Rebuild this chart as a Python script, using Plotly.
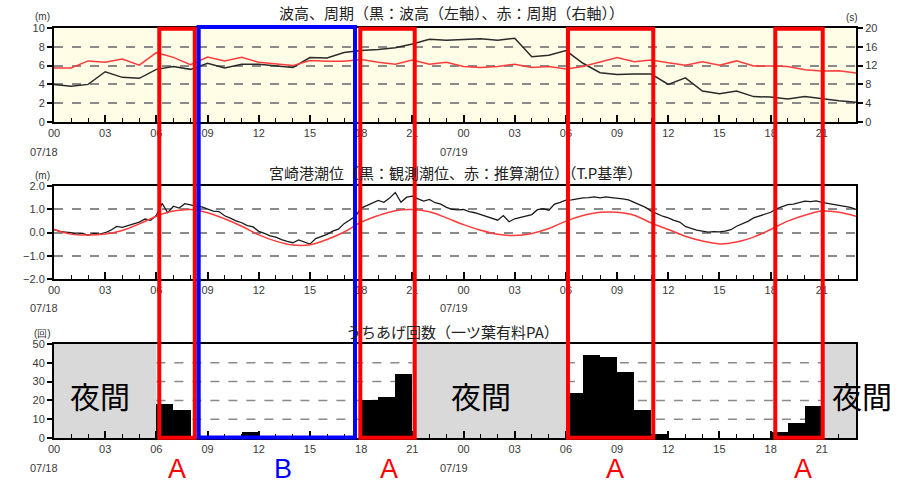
import plotly.graph_objects as go

# ---------------- data ----------------
hours = list(range(48))  # 07/18 00:00 .. 07/19 23:00

wave_height = [4.0, 3.8, 4.0, 5.35, 4.75, 4.65, 5.6, 5.9, 5.6, 6.25, 5.75, 6.15,
               6.15, 6.0, 5.8, 6.85, 6.8, 7.4, 7.6, 7.7, 7.9, 8.3, 8.8, 8.7,
               8.8, 8.85, 8.7, 8.9, 6.95, 7.1, 7.6, 6.25, 5.25, 5.05, 5.1, 5.1,
               4.0, 4.7, 3.3, 3.0, 3.3, 2.7, 2.65, 2.45, 2.7, 2.45, 2.25, 2.1]

wave_period = [11.5, 11.5, 13.0, 12.7, 13.4, 12.1, 14.75, 13.75, 12.2, 13.8, 13.0, 13.75,
               12.7, 12.3, 12.0, 13.1, 12.9, 12.9, 13.3, 12.7, 12.3, 13.2, 12.3, 12.7,
               11.8, 11.6, 11.8, 12.3, 11.6, 11.8, 11.3, 11.8, 12.8, 13.7, 12.8, 13.2,
               12.6, 12.1, 12.8, 12.1, 13.0, 11.9, 11.9, 11.8, 11.1, 10.85, 10.9, 10.4]

tide_predicted = [0.13, -0.07, -0.11, -0.06, 0.09, 0.37, 0.70, 0.92, 0.99, 0.85, 0.59, 0.27,
                  -0.10, -0.37, -0.54, -0.53, -0.30, 0.02, 0.44, 0.73, 0.94, 0.99, 0.89, 0.63,
                  0.34, 0.10, -0.08, -0.13, -0.04, 0.17, 0.49, 0.73, 0.87, 0.87, 0.74, 0.41,
                  0.13, -0.16, -0.37, -0.49, -0.41, -0.20, 0.13, 0.49, 0.74, 0.92, 0.87, 0.70]

# observed tide, every 20 minutes
tide_observed = [
    0.13, 0.05, 0.02,  -0.01, -0.08, -0.03,  -0.12, -0.04, -0.07,  -0.01, 0.10, 0.26,
    0.22, 0.30, 0.40,  0.45, 0.58, 0.52,  0.74, 1.25, 0.85,  1.13, 1.05, 1.24,
    1.19, 1.12, 1.10,  1.02, 0.92, 0.90,  0.72, 0.62, 0.50,  0.42, 0.30, 0.24,
    0.05, -0.04, -0.14,  -0.20, -0.31, -0.38,  -0.44, -0.32, -0.42,  -0.50, -0.26, -0.18,
    -0.08, 0.06, 0.14,  0.38, 0.55, 0.70,  1.05, 1.16, 1.25,  1.38, 1.30, 1.48,
    1.72, 1.30, 1.52,  1.56, 1.45, 1.35,  1.42, 1.28, 1.22,  1.08, 1.00, 0.97,
    0.99, 0.90, 0.85,  0.77, 0.68, 0.60,  0.53, 0.73, 0.46,  0.59, 0.64, 0.72,
    0.77, 0.98, 1.02,  0.96, 1.22, 1.30,  1.39, 1.40, 1.46,  1.49, 1.50, 1.53,
    1.49, 1.53, 1.50,  1.49, 1.45, 1.40,  1.30, 1.18, 1.08,  0.92, 0.80, 0.70,
    0.63, 0.52, 0.45,  0.26, 0.18, 0.10,  0.06, 0.02, 0.04,  0.03, 0.06, 0.12,
    0.27, 0.38, 0.48,  0.63, 0.72, 0.80,  0.87, 1.02, 1.12,  1.20, 1.22, 1.28,
    1.35, 1.33, 1.36,  1.30, 1.25, 1.20,  1.16, 1.12, 1.08,  0.99]
tide_obs_hours = [i / 3 for i in range(len(tide_observed))]

# wave overtopping counts per hour (None = night / no data)
count_hours = list(range(47))
overtop_counts = [None]*6 + [18, 15, 0, 0, 0, 3, 0, 0, 0, 0, 0, 0, 20, 22, 34] + [None]*9 + \
                 [24, 44, 43, 35, 15, 2, 0, 0, 0, 0, 0, 0, 3, 8, 17] + [None]*2

night_spans = [(0, 6), (21, 30), (45, 47)]
day_spans = [(6, 21), (30, 45)]
count_grid = [10, 20, 30, 40]
tick_hours = list(range(0, 46, 3))
tick_labels = ["%02d" % (h % 24) for h in tick_hours]
date_labels = [(0, "07/18"), (24, "07/19")]

box_A = [(6.17, 8.25), (17.95, 21.14), (30.12, 35.12), (42.27, 45.05)]
box_B = [(8.48, 17.64)]
label_A_hours = [7.2, 19.65, 32.85, 43.9]
label_B_hours = [13.4]

# ---------------- layout helpers ----------------
W, H = 914, 485
L, T = 54, 28
R = W - 856
B = H - 438
PW, PH = W - L - R, H - T - B
XMAX = 47


def py(p):  # pixel y -> paper y
    return (H - B - p) / PH


def pxx(p):  # pixel x -> paper x
    return (p - L) / PW


def hx(h):  # hour -> paper x
    return h / XMAX

TICKFONT = dict(family="Liberation Sans, Arial", size=11, color="#3a3a3a")

fig = go.Figure()
fig.add_trace(go.Scatter(x=hours, y=wave_height, mode="lines", xaxis="x", yaxis="y",
                         line=dict(color="#2a2a2a", width=1.5), showlegend=False))
fig.add_trace(go.Scatter(x=hours, y=wave_period, mode="lines", xaxis="x", yaxis="y2",
                         line=dict(color="#ff3b3b", width=1.5), showlegend=False))
fig.add_trace(go.Scatter(x=tide_obs_hours, y=tide_observed, mode="lines", xaxis="x2", yaxis="y3",
                         line=dict(color="#1a1a1a", width=1.3), showlegend=False))
fig.add_trace(go.Scatter(x=hours, y=tide_predicted, mode="lines", xaxis="x2", yaxis="y3",
                         line=dict(color="#ff3b3b", width=1.5, shape="spline"), showlegend=False))
fig.add_trace(go.Bar(x=[h + 0.5 for h in count_hours], y=overtop_counts, width=1,
                     xaxis="x3", yaxis="y4", marker=dict(color="black", line=dict(width=0)),
                     showlegend=False))


def xaxis(anchor):
    return dict(domain=[0, 1], anchor=anchor, range=[0, XMAX], tickmode="array",
                tickvals=tick_hours, ticktext=tick_labels, ticks="inside", ticklen=7,
                tickwidth=1.5, tickcolor="black", showline=True, linecolor="black",
                linewidth=2, mirror=True, showgrid=False, zeroline=False, tickfont=TICKFONT,
                minor=dict(dtick=1, tick0=0, ticks="inside", ticklen=4, tickcolor="black",
                           tickwidth=1, showgrid=False))


def yaxis(domain, rng, vals, anchor, fmt=None, side="left", grid=True, overlaying=None):
    d = dict(domain=domain, range=rng, tickmode="array", tickvals=vals, ticks="outside",
             ticklen=5, tickcolor="black", tickwidth=1.5, showline=True, linecolor="black",
             linewidth=2, showgrid=grid, gridcolor="#8a8a8a", griddash="dash", gridwidth=1.5,
             zeroline=False, tickfont=TICKFONT, anchor=anchor, side=side, fixedrange=True)
    if fmt:
        d["tickformat"] = fmt
    if overlaying:
        d["overlaying"] = overlaying
    else:
        d["mirror"] = True
    return d

dom_top = [py(122), 1]
dom_mid = [py(279), py(186)]
dom_bot = [0, py(344)]

fig.update_layout(
    width=W, height=H, margin=dict(l=L, r=R, t=T, b=B, autoexpand=False),
    paper_bgcolor="white", plot_bgcolor="white", bargap=0,
    font=dict(family="Liberation Sans, Arial", color="#333333"),
    xaxis=xaxis("y"), xaxis2=xaxis("y3"), xaxis3=xaxis("y4"),
    yaxis=yaxis(dom_top, [0, 10], [0, 2, 4, 6, 8, 10], "x"),
    yaxis2=yaxis(dom_top, [0, 20], [0, 4, 8, 12, 16, 20], "x", side="right", grid=False,
                 overlaying="y"),
    yaxis3=yaxis(dom_mid, [-2, 2], [-2, -1, 0, 1, 2], "x2", fmt=".1f"),
    yaxis4=yaxis(dom_bot, [0, 50], [0, 10, 20, 30, 40, 50], "x3", grid=False),
)

shapes = [dict(type="rect", xref="paper", yref="paper", x0=0, x1=1, y0=dom_top[0], y1=1,
               fillcolor="#fffde6", line=dict(width=0), layer="below")]
for a, b in night_spans:
    shapes.append(dict(type="rect", xref="x3", yref="y4", x0=a, x1=b, y0=0, y1=50,
                       fillcolor="#d9d9d9", line=dict(width=0), layer="below"))
for a, b in day_spans:
    for g in count_grid:
        shapes.append(dict(type="line", xref="x3", yref="y4", x0=a, x1=b, y0=g, y1=g,
                           line=dict(color="#8a8a8a", width=1.5, dash="dash"), layer="below"))
for a, b in box_A:
    shapes.append(dict(type="rect", xref="paper", yref="paper", x0=hx(a), x1=hx(b),
                       y0=py(437.7), y1=py(28.7), line=dict(color="#ff0000", width=4),
                       layer="above"))
for a, b in box_B:
    shapes.append(dict(type="rect", xref="paper", yref="paper", x0=hx(a), x1=hx(b),
                       y0=py(437.5), y1=py(27), line=dict(color="#0000ff", width=4),
                       layer="above"))
fig.update_layout(shapes=shapes)

ann = []
TITLE = dict(family="Noto Sans CJK JP", size=15, color="#222222")
ann.append(dict(text="波高、周期（黒：波高（左軸）、赤：周期（右軸））", x=pxx(451), y=py(13)))
ann.append(dict(text="宮崎港潮位（黒：観測潮位、赤：推算潮位）（T.P基準）", x=pxx(455), y=py(172)))
ann.append(dict(text="うちあげ回数（一ツ葉有料PA）", x=pxx(452), y=py(331)))
for a in ann:
    a.update(xref="paper", yref="paper", showarrow=False, font=TITLE, xanchor="center",
             yanchor="middle")

UNIT = dict(family="Liberation Sans, Arial", size=10, color="#333333")
for txt, px_, pyy in [("(m)", 42, 17), ("(m)", 42, 175), ("(回)", 42, 333), ("(s)", 852, 18)]:
    ann.append(dict(text=txt, x=pxx(px_), y=py(pyy), xref="paper", yref="paper",
                    showarrow=False, font=UNIT, xanchor="center", yanchor="middle"))

for rowy in [152, 308, 468]:
    for h, lab in date_labels:
        ann.append(dict(text=lab, x=hx(h), y=py(rowy), xref="paper", yref="paper", xshift=-10,
                        showarrow=False, font=TICKFONT, xanchor="center", yanchor="middle"))

NIGHT = dict(family="Noto Sans CJK JP", size=30, color="black")
for cx in [100, 481, 862]:
    ann.append(dict(text="夜間", x=pxx(cx), y=py(395), xref="paper", yref="paper",
                    showarrow=False, font=NIGHT, xanchor="center", yanchor="middle"))

LET = dict(family="Liberation Sans, Arial", size=27)
for h in label_A_hours:
    ann.append(dict(text="A", x=hx(h), y=py(469), xref="paper", yref="paper", showarrow=False,
                    font=dict(LET, color="#ff0000"), xanchor="center", yanchor="middle"))
for h in label_B_hours:
    ann.append(dict(text="B", x=hx(h), y=py(469), xref="paper", yref="paper", showarrow=False,
                    font=dict(LET, color="#0000ff"), xanchor="center", yanchor="middle"))

fig.update_layout(annotations=ann)
fig.write_html("out.html", config={"displayModeBar": False},
               post_script="document.body.style.margin='0px';")
